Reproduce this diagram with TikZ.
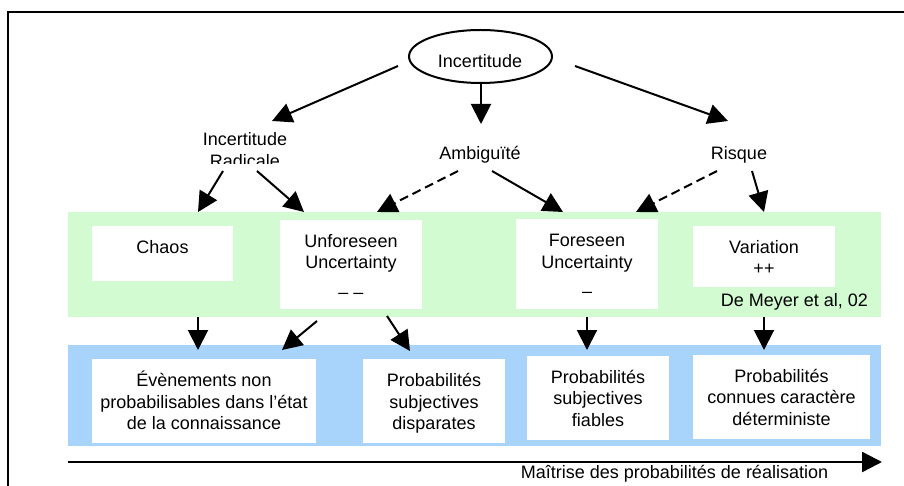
\documentclass[tikz,border=0pt]{standalone}
\usepackage{fontspec}
\setmainfont{Liberation Sans}
\usetikzlibrary{arrows.meta,shapes.geometric}
\definecolor{bandgreen}{RGB}{210,251,210}
\definecolor{bandblue}{RGB}{168,212,252}
\begin{document}
\begin{tikzpicture}[x=1pt,y=-1pt,
  every node/.style={font=\fontsize{18}{21.6}\selectfont, inner sep=0pt, outer sep=0pt},
  txt/.style={anchor=base, align=center},
  arr/.style={line width=2pt,-{Triangle[length=20pt,width=20pt]}},
  darr/.style={arr,dash pattern=on 9pt off 5pt},
  band/.style={fill=#1, minimum width=813pt},
  wbox/.style={fill=white}]
\useasboundingbox (0,0) rectangle (904,486);
% frame
\draw[line width=2pt] (8,492) -- (8,12) -- (912,12);
% bands
\node[band=bandgreen, minimum height=105pt] (green) at (474.5,264.5) {};
\node[band=bandblue, minimum height=101pt] (blue) at (474.5,395.5) {};
% white boxes
\node[wbox, minimum width=141pt, minimum height=55pt] (chaosbox) at (162.5,253.5) {};
\node[wbox, minimum width=142pt, minimum height=89pt] (unfbox) at (351,264.5) {};
\node[wbox, minimum width=142pt, minimum height=90pt] (forbox) at (587,264) {};
\node[wbox, minimum width=142pt, minimum height=61pt] (varbox) at (764,256.5) {};
\node[wbox, minimum width=224pt, minimum height=84pt] (evbox) at (204,401) {};
\node[wbox, minimum width=142pt, minimum height=84pt] (dispbox) at (434,401) {};
\node[wbox, minimum width=142pt, minimum height=84pt] (fiabox) at (598,398) {};
\node[wbox, minimum width=177pt, minimum height=84pt] (conbox) at (781.5,397) {};
% top
\node[draw, ellipse, line width=2pt, minimum width=143pt, minimum height=53pt] (inc) at (480.5,56.5) {};
\node[txt] (inctxt) at (480,67.7) {Incertitude};
\begin{scope}
  \clip (140,100) rectangle (350,163.5);
  \node[txt] (rad) at (245,167.2) {Incertitude\\Radicale};
\end{scope}
\node[txt] (amb) at (480,159.3) {Ambiguïté};
\node[txt] (ris) at (739,159.3) {Risque};
% texts in green band (anchor = baseline of last line)
\node[txt] (chaos) at (162.5,253.3) {Chaos};
\node[txt] (unf) at (351,298) {Unforeseen\\Uncertainty\\[7.5pt]– –};
\node[txt] (for) at (587,297.4) {Foreseen\\Uncertainty\\[7.5pt]–};
\node[txt] (var) at (764,274.9) {Variation\\++};
\node[anchor=base east] (dm) at (868,306.7) {De Meyer et al, 02};
% texts in blue band
\node[txt] (ev) at (204,429.7) {Évènements non\\probabilisables dans l’état\\de la connaissance};
\node[txt] (disp) at (434,429.7) {Probabilités\\subjectives\\disparates};
\node[txt] (fia) at (598,426.2) {Probabilités\\subjectives\\fiables};
\node[txt] (con) at (781.5,425.2) {Probabilités\\connues caractère\\déterministe};
\node[txt] (axl) at (674.5,478) {Maîtrise des probabilités de réalisation};
% connector ends
\coordinate (i1) at (398,66);   \coordinate (r1) at (272,121);
\coordinate (i2) at (481,83);   \coordinate (a1) at (481,124);
\coordinate (i3) at (575,66);   \coordinate (k1) at (728,121);
\coordinate (r2) at (223,171);  \coordinate (c1) at (198,212);
\coordinate (r3) at (257,171);  \coordinate (u1) at (304,212);
\coordinate (a2) at (458,171);  \coordinate (u2) at (377,212);
\coordinate (a3) at (492,171);  \coordinate (f1) at (563,212);
\coordinate (k2) at (717,171);  \coordinate (f2) at (636,212);
\coordinate (k3) at (752,171);  \coordinate (v1) at (764,212);
\coordinate (c2) at (198,317);  \coordinate (e1) at (198,350);
\coordinate (u3) at (317,321);  \coordinate (e2) at (282,350);
\coordinate (u4) at (387,316);  \coordinate (d1) at (410,351);
\coordinate (f3) at (587,317);  \coordinate (p1) at (587,350);
\coordinate (v2) at (764,317);  \coordinate (q1) at (764,350);
\coordinate (ax0) at (68,462);  \coordinate (ax1) at (882,462);
% connectors
\draw[arr] (i1) -- (r1);
\draw[arr] (i2) -- (a1);
\draw[arr] (i3) -- (k1);
\draw[arr] (r2) -- (c1);
\draw[arr] (r3) -- (u1);
\draw[darr] (a2) -- (u2);
\draw[arr] (a3) -- (f1);
\draw[darr] (k2) -- (f2);
\draw[arr] (k3) -- (v1);
\draw[arr] (c2) -- (e1);
\draw[arr] (u3) -- (e2);
\draw[arr] (u4) -- (d1);
\draw[arr] (f3) -- (p1);
\draw[arr] (v2) -- (q1);
\draw[arr, line width=2.4pt] (ax0) -- (ax1);
\end{tikzpicture}
\end{document}
